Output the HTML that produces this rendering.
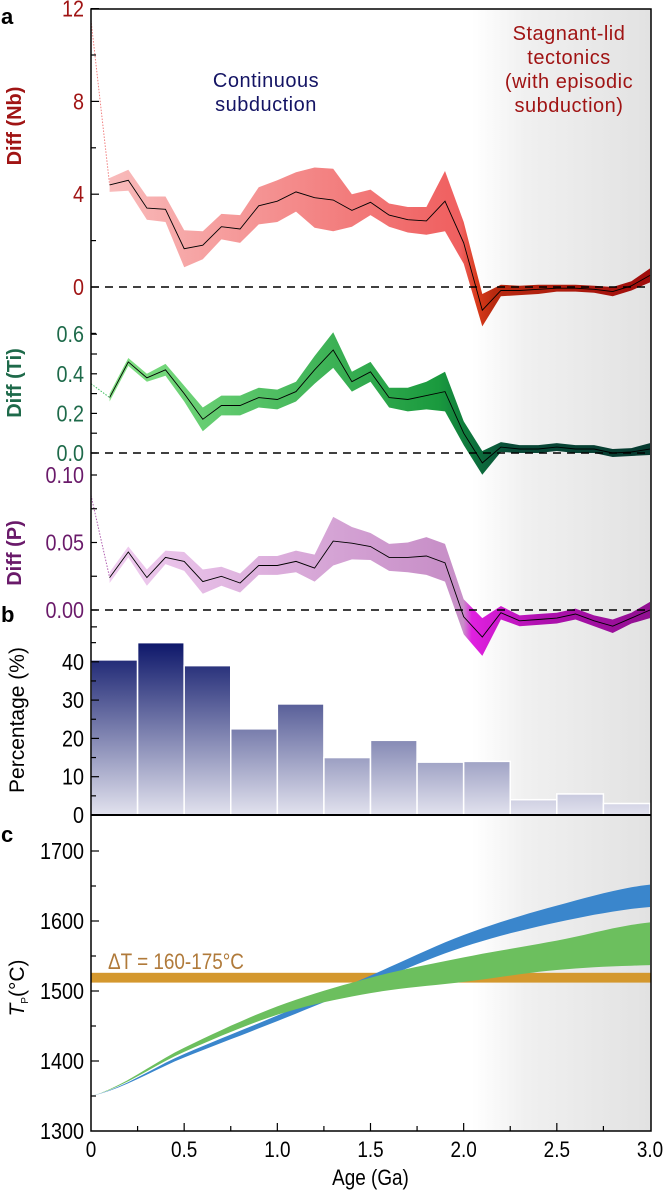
<!DOCTYPE html>
<html><head><meta charset="utf-8"><style>
html,body{margin:0;padding:0;background:#fff;}
svg{display:block;font-family:"Liberation Sans",Arial,sans-serif;}
</style></head><body>
<svg id="s" width="666" height="1190" viewBox="0 0 666 1190" xmlns="http://www.w3.org/2000/svg">
<defs>
<linearGradient id="bg" x1="0" x2="1" y1="0" y2="0">
<stop offset="0" stop-color="#fff"/><stop offset="0.3" stop-color="#f0f0f0"/><stop offset="1" stop-color="#e2e2e2"/></linearGradient>
<linearGradient id="nb" gradientUnits="userSpaceOnUse" x1="91" x2="651" y1="0" y2="0">
<stop offset="0" stop-color="#f9c0c0"/><stop offset="0.62" stop-color="#f06464"/><stop offset="0.66" stop-color="#f06060"/><stop offset="0.69" stop-color="#d83a1a"/><stop offset="0.72" stop-color="#b82a10"/><stop offset="1" stop-color="#a00c0c"/></linearGradient>
<linearGradient id="ti" gradientUnits="userSpaceOnUse" x1="91" x2="651" y1="0" y2="0">
<stop offset="0" stop-color="#8ae68a"/><stop offset="0.62" stop-color="#1a9a3e"/><stop offset="0.69" stop-color="#0c6e3c"/><stop offset="0.75" stop-color="#0a4a38"/><stop offset="1" stop-color="#063a30"/></linearGradient>
<linearGradient id="p" gradientUnits="userSpaceOnUse" x1="91" x2="651" y1="0" y2="0">
<stop offset="0" stop-color="#f2d0f2"/><stop offset="0.62" stop-color="#c890c8"/><stop offset="0.665" stop-color="#c890c8"/><stop offset="0.68" stop-color="#e020e0"/><stop offset="0.8" stop-color="#b010b0"/><stop offset="1" stop-color="#901090"/></linearGradient>
<linearGradient id="bar" gradientUnits="userSpaceOnUse" x1="0" x2="0" y1="640" y2="815">
<stop offset="0" stop-color="#0a1468"/><stop offset="1" stop-color="#e2e2ee"/></linearGradient>
</defs>
<rect x="472" y="9" width="179" height="1122" fill="url(#bg)"/>
<g id="g"></g>
</svg>
<script>
var NS="http://www.w3.org/2000/svg",G=document.getElementById('g');
function X(a){return 91+a*186.33;}
function el(t,at,txt){var e=document.createElementNS(NS,t);for(var k in at)e.setAttribute(k,at[k]);if(txt!==undefined)e.textContent=txt;G.appendChild(e);return e;}
function band(mid,hw,Y,fill){var up=[],lo=[],ln=[];for(var i=0;i<mid.length;i++){var x=X(0.1*(i+1));up.push(x.toFixed(1)+','+Y(mid[i]+hw[i]).toFixed(1));lo.unshift(x.toFixed(1)+','+Y(mid[i]-hw[i]).toFixed(1));ln.push(x.toFixed(1)+','+Y(mid[i]).toFixed(1));}
el('polygon',{points:up.concat(lo).join(' '),fill:fill});el('polyline',{points:ln.join(' '),fill:'none',stroke:'#000','stroke-width':0.9});}
var Yn=function(v){return 287-v*23.2;};
el('line',{x1:X(0),y1:Yn(11.5),x2:X(0.1),y2:Yn(4.4),stroke:'#f08080','stroke-width':1,'stroke-dasharray':'1.5,1.5'});
band([4.4,4.6,3.4,3.35,1.65,1.8,2.6,2.5,3.5,3.7,4.1,3.85,3.75,3.3,3.65,3.1,2.9,2.85,3.7,1.9,-1.0,-0.15,-0.15,-0.1,-0.05,-0.05,-0.1,-0.2,0.05,0.5],
[0.3,0.45,0.5,0.55,0.8,0.6,0.55,0.6,0.8,0.9,0.85,1.3,1.35,0.7,0.55,0.5,0.55,0.6,1.3,0.9,0.7,0.25,0.2,0.2,0.15,0.15,0.15,0.2,0.2,0.3],Yn,'url(#nb)');
el('line',{x1:91,y1:287,x2:651,y2:287,stroke:'#000','stroke-width':1.5,'stroke-dasharray':'8,6'});
var Yt=function(v){return 453-v*198;};
el('line',{x1:X(0),y1:Yt(0.35),x2:X(0.1),y2:Yt(0.28),stroke:'#40c060','stroke-width':1,'stroke-dasharray':'1.5,1.5'});
band([0.28,0.46,0.38,0.42,0.3,0.17,0.24,0.24,0.28,0.27,0.31,0.42,0.52,0.36,0.41,0.28,0.27,0.29,0.31,0.1,-0.05,0.03,0.02,0.02,0.03,0.02,0.02,0.0,0.005,0.02],
[0.02,0.02,0.02,0.03,0.04,0.06,0.05,0.05,0.05,0.05,0.05,0.07,0.09,0.05,0.05,0.05,0.06,0.07,0.1,0.06,0.06,0.025,0.02,0.02,0.02,0.02,0.02,0.02,0.02,0.03],Yt,'url(#ti)');
el('line',{x1:91,y1:453,x2:651,y2:453,stroke:'#000','stroke-width':1.5,'stroke-dasharray':'8,6'});
var Yp=function(v){return 610-v*1350;};
el('line',{x1:X(0),y1:Yp(0.085),x2:X(0.1),y2:Yp(0.024),stroke:'#b060b0','stroke-width':1,'stroke-dasharray':'1.5,1.5'});
band([0.024,0.043,0.024,0.039,0.036,0.021,0.025,0.02,0.033,0.033,0.036,0.031,0.051,0.0495,0.047,0.039,0.039,0.04,0.035,-0.005,-0.02,-0.002,-0.008,-0.007,-0.006,-0.003,-0.008,-0.012,-0.006,0.0],
[0.004,0.004,0.006,0.005,0.007,0.009,0.007,0.007,0.007,0.007,0.008,0.01,0.018,0.012,0.01,0.01,0.011,0.014,0.014,0.013,0.014,0.005,0.004,0.004,0.004,0.004,0.004,0.005,0.004,0.006],Yp,'url(#p)');
el('line',{x1:91,y1:610,x2:651,y2:610,stroke:'#000','stroke-width':1.5,'stroke-dasharray':'8,6'});
var Yb=function(v){return 815-v*3.83;};
[40.5,45,39,22.5,29,15,19.5,13.8,14,4,5.5,3].forEach(function(v,i){el('rect',{x:X(i*0.25),y:Yb(v),width:186.33*0.25,height:v*3.83,fill:'url(#bar)',stroke:'#fff','stroke-width':1.5});});
var Yc=function(T){return 1131-(T-1300)*0.7;};
function curve(u,l,fill){var ag=[0,0.5,1,1.5,2,2.5,3],up=[],lo=[];
 for(var a=0;a<=3.0001;a+=0.05){var i=Math.min(5,Math.floor(a/0.5)),f=(a-ag[i])/0.5;
 function interp(arr){var p0=arr[Math.max(0,i-1)],p1=arr[i],p2=arr[i+1],p3=arr[Math.min(6,i+2)];var t=f;return 0.5*((2*p1)+(-p0+p2)*t+(2*p0-5*p1+4*p2-p3)*t*t+(-p0+3*p1-3*p2+p3)*t*t*t);}
 up.push(X(a).toFixed(1)+','+Yc(interp(u)).toFixed(1));lo.unshift(X(a).toFixed(1)+','+Yc(interp(l)).toFixed(1));}
 el('polygon',{points:up.concat(lo).join(' '),fill:fill});}
el('rect',{x:91,y:Yc(1526),width:560,height:Yc(1512)-Yc(1526),fill:'#d4982e'});
curve([1350,1410,1465,1522,1580,1622,1652],[1350,1405,1457,1511,1563,1598,1620],'#3a86cc');
curve([1350,1419,1478,1519,1548,1572,1598],[1350,1413,1466,1497,1513,1530,1537],'#6cbf5e');
function ctext(x,y,t,at){var e=el('text',Object.assign({x:0,y:0,transform:'translate('+x+','+y+') scale(0.86,1)'},at),t);return e;}
ctext(108,969,'ΔT = 160-175°C',{'font-size':22,fill:'#b07a3a'});
el('rect',{x:91,y:9,width:560,height:1122,fill:'none',stroke:'#000','stroke-width':1.5});
el('line',{x1:91,y1:815,x2:651,y2:815,stroke:'#000','stroke-width':2});
function tick(y,len){el('line',{x1:91,y1:y,x2:91+len,y2:y,stroke:'#000','stroke-width':1.2});}
function lab(y,t,c){ctext(84,y+8,t,{'font-size':23,fill:c,'text-anchor':'end'});}
[12,10,8,6,4,2,0,-2].forEach(function(v){tick(Yn(v),v%4==0?8:5);});
[['12',12],['8',8],['4',4],['0',0]].forEach(function(p){lab(Yn(p[1]),p[0],'#a01414');});
[0.6,0.5,0.4,0.3,0.2,0.1,0].forEach(function(v){tick(Yt(v),6);});
[['0.6',0.6],['0.4',0.4],['0.2',0.2],['0.0',0]].forEach(function(p){lab(Yt(p[1]),p[0],'#1e6a4a');});
[0.1,0.075,0.05,0.025,0,-0.0125].forEach(function(v){tick(Yp(v),6);});
[['0.10',0.1],['0.05',0.05],['0.00',0]].forEach(function(p){lab(Yp(p[1]),p[0],'#6a1a6a');});
[45,40,35,30,25,20,15,10,5].forEach(function(v){tick(Yb(v),v%10==0?8:5);});
[40,30,20,10,0].forEach(function(v){lab(Yb(v),String(v),'#000');});
[1700,1650,1600,1550,1500,1450,1400,1350].forEach(function(v){tick(Yc(v),v%100==0?8:5);});
[1700,1600,1500,1400,1300].forEach(function(v){lab(Yc(v),String(v),'#000');});
for(var a=0.25;a<3;a+=0.25){var x=X(a);el('line',{x1:x,y1:1131,x2:x,y2:1131-(Math.abs(a*2-Math.round(a*2))<0.01?8:5),stroke:'#000','stroke-width':1.2});}
['0','0.5','1.0','1.5','2.0','2.5','3.0'].forEach(function(t,i){ctext(X(i*0.5),1157,t,{'font-size':22,'text-anchor':'middle'});});
ctext(X(1.5),1185,'Age (Ga)',{'font-size':22,'text-anchor':'middle'});
function ylab(x,y,t,c,w,fs){var e=el('text',{x:0,y:0,'font-size':fs||20,fill:c,'font-weight':w,'text-anchor':'middle',transform:'translate('+x+','+y+') rotate(-90)'},t);return e;}
ylab(21,126,'Diff (Nb)','#a01414','bold');
ylab(21,383,'Diff (Ti)','#1e6a4a','bold');
ylab(21,553,'Diff (P)','#6a1a6a','bold');
ylab(24,720,'Percentage (%)','#000','normal',21);
var tp=ylab(24,988,'','#000','normal',21);
tp.innerHTML='<tspan font-style="italic">T</tspan><tspan font-size="10" dy="4">P</tspan><tspan dy="-4">(°C)</tspan>';
el('text',{x:1,y:24,'font-size':22,'font-weight':'bold'},'a');
el('text',{x:1,y:622,'font-size':22,'font-weight':'bold'},'b');
el('text',{x:1,y:842,'font-size':22,'font-weight':'bold'},'c');
el('text',{x:266,y:87,'font-size':20,fill:'#141464','text-anchor':'middle','letter-spacing':'0.5'},'Continuous');
el('text',{x:266,y:111,'font-size':20,fill:'#141464','text-anchor':'middle','letter-spacing':'0.5'},'subduction');
[['Stagnant-lid',40],['tectonics',64],['(with episodic',88],['subduction)',112]].forEach(function(p){el('text',{x:569,y:p[1],'font-size':20,fill:'#a01414','text-anchor':'middle','letter-spacing':'0.5'},p[0]);});
</script>
</body></html>
